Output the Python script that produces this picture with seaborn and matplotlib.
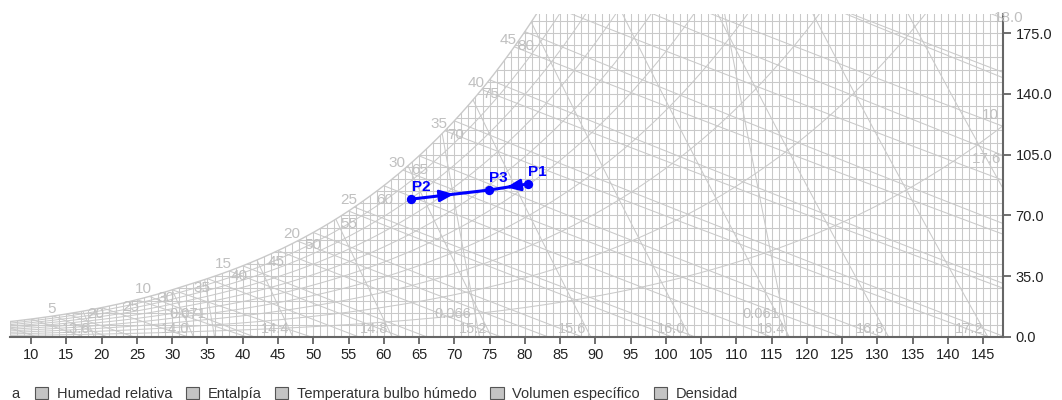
import numpy as np
import pandas as pd
import matplotlib
matplotlib.use("Agg")
import matplotlib.pyplot as plt
import seaborn as sns
from matplotlib.patches import Polygon, Patch

# ---------------- data ----------------
pressure_kpa = 89.9                      # station pressure of the chart
x_ticks = list(range(10, 150, 5))        # dry bulb, degF
y_ticks = [0, 35, 70, 105, 140, 175]     # humidity ratio, grains/lb
dry_bulb_grid = list(range(7, 149, 1))
humidity_grid = list(range(7, 186, 7))
rh_levels = [0.1, 0.2, 0.3, 0.4, 0.5, 0.6, 0.7, 0.8, 0.9]
rh_edge_labels = ["10"]
enthalpy_levels = [0, 5, 10, 15, 20, 25, 30, 35, 40, 45, 50, 55, 60, 65, 70]
enthalpy_labels = [5, 10, 15, 20, 25, 30, 35, 40, 45]
wetbulb_levels = [0, 5, 10, 15, 20, 25, 30, 35, 40, 45, 50, 55, 60, 65, 70, 75,
                  80, 85, 90, 95, 100, 105, 110]
wetbulb_labels = [20, 25, 30, 35, 40, 45, 50, 55, 60, 65, 70, 75, 80]
volume_levels = [13.2, 13.6, 14.0, 14.4, 14.8, 15.2, 15.6, 16.0, 16.4, 16.8,
                 17.2, 17.6, 18.0, 18.4]
volume_bottom_labels = ["13.6", "14.0", "14.4", "14.8", "15.2", "15.6", "16.0",
                        "16.4", "16.8", "17.2"]
volume_edge_labels = ["17.6", "18.0"]
density_levels = [0.056, 0.061, 0.066, 0.071, 0.076]
density_labels = ["0.061", "0.066", "0.071"]

point_names = ["P1", "P2", "P3"]
point_db = [80.4, 63.9, 74.9]       # degF
point_w = [88.1, 79.4, 84.6]        # grains/lb

legend_labels = ["Humedad relativa", "Entalpía", "Temperatura bulbo húmedo",
                 "Volumen específico", "Densidad"]

# ---------------- psychrometrics ----------------
def f2c(t):
    return (np.asarray(t, float) - 32.0) / 1.8

def pws(tf):
    tc = f2c(tf)
    return np.where(tc >= 0,
                    0.61094 * np.exp(17.625 * tc / (tc + 243.04)),
                    0.61115 * np.exp(22.452 * tc / (272.55 + tc)))

def w_sat(tf):
    p = pws(tf)
    return 0.622 * p / (pressure_kpa - p)

def w_rh(tf, phi):
    p = phi * pws(tf)
    return 0.622 * p / (pressure_kpa - p)

def w_enth(tf, h):
    return (h - 0.24 * tf) / (1061.0 + 0.444 * tf)

def w_wetbulb(tf, twb):
    ws = w_sat(twb)
    if twb >= 32:
        return ((1093 - 0.556 * twb) * ws - 0.240 * (tf - twb)) / (1093 + 0.444 * tf - twb)
    return ((1220 - 0.04 * twb) * ws - 0.240 * (tf - twb)) / (1220 + 0.444 * tf - 0.48 * twb)

def t_volume(w, v):
    tk = v * pressure_kpa / (4.598 * (1 + 1.6078 * w))
    return (tk - 273.15) * 1.8 + 32

def t_density(w, rho):
    tk = (1 + w) * pressure_kpa / (4.598 * rho * (1 + 1.6078 * w))
    return (tk - 273.15) * 1.8 + 32

GR = 7000.0
XMIN, XMAX, YMIN, YMAX = 7.0, 147.8, 0.0, 186.0
PX = 0.72  # points per pixel at 100 dpi

# ---------------- build chart lines ----------------
rows = []
uid = 0
def add(t, gr):
    global uid
    for a, b in zip(t, gr):
        rows.append((uid, float(a), float(b)))
    uid += 1

for t in dry_bulb_grid:
    add([t, t], [0, 400])
for g in humidity_grid:
    add([0, 160], [g, g])
tt = np.linspace(0, 160, 400)
for phi in rh_levels:
    add(tt, w_rh(tt, phi) * GR)
for h in enthalpy_levels:
    add(tt, w_enth(tt, h) * GR)
for twb in wetbulb_levels:
    t2 = np.linspace(twb, 160, 200)
    add(t2, w_wetbulb(t2, twb) * GR)
ww = np.linspace(0, 0.04, 50)
for v in volume_levels:
    add(t_volume(ww, v), ww * GR)
for rho in density_levels:
    add(t_density(ww, rho), ww * GR)
df_lines = pd.DataFrame(rows, columns=["uid", "t", "gr"])

tsat = np.linspace(0, 95, 500)
df_sat = pd.DataFrame({"t": tsat, "gr": w_sat(tsat) * GR})

# ---------------- figure ----------------
sns.set_theme(style="white")
plt.rcParams["font.family"] = ["Liberation Sans", "DejaVu Sans"]

fig = plt.figure(figsize=(10.62, 4.0), dpi=100)
ax = fig.add_axes([10 / 1062, 63 / 400, 993 / 1062, 323 / 400])

grid_col = "#c9c9c9"
lab_col = "#c0c0c0"
lab_fs = 11
small_fs = 10.5

sns.lineplot(data=df_lines, x="t", y="gr", units="uid", estimator=None,
             sort=False, color=grid_col, lw=0.75, ax=ax)
n_grid = len(ax.lines)

clip_poly = np.vstack([np.column_stack([tsat, df_sat["gr"].values]),
                       [[200, df_sat["gr"].values[-1]], [200, -10], [0, -10]]])
clip = Polygon(clip_poly, closed=True, transform=ax.transData, facecolor="none",
               edgecolor="none")
for ln in ax.lines[:n_grid]:
    ln.set_clip_path(clip)

sns.lineplot(data=df_sat, x="t", y="gr", sort=False, color=grid_col, lw=1.0, ax=ax)

# ---------- labels ----------
fine_t = np.linspace(0, 100, 20001)
hsat = 0.24 * fine_t + w_sat(fine_t) * (1061 + 0.444 * fine_t)
for h in enthalpy_labels:
    t0 = np.interp(h, hsat, fine_t)
    ax.annotate(str(h), (t0, w_sat(t0) * GR), xytext=(2, 0), textcoords="offset points",
                ha="right", va="bottom", color=lab_col, fontsize=lab_fs)
for twb in wetbulb_labels:
    dx_px = np.interp(twb, [20, 35, 45, 60, 80], [-6, -6, -1.5, 1, 1])
    dy_px = np.interp(twb, [20, 30, 45, 60, 80], [6, 8, 11.5, 14, 14])
    ax.annotate(str(twb), (twb, w_sat(twb) * GR), xytext=(dx_px * PX, -dy_px * PX),
                textcoords="offset points", ha="center", va="center", color=lab_col,
                fontsize=lab_fs)
for lab in volume_bottom_labels:
    v = float(lab)
    t0 = t_volume(4.8 / GR, v)
    if 9 < t0 < XMAX:
        ax.annotate(lab, (t0, 4.8), xytext=(0, 0), textcoords="offset points",
                    ha="right", va="center", color=lab_col, fontsize=small_fs)
for lab in volume_edge_labels:
    v = float(lab)
    wg = np.linspace(0, 0.03, 3001)
    tl = t_volume(wg, v)
    g_at = np.interp(-145.5, -tl, wg) * GR
    if g_at < 182:
        ax.text(145.5, g_at, lab, ha="center", va="center", color=lab_col,
                fontsize=lab_fs)
    else:
        t_at = t_volume(183 / GR, v)
        ax.text(t_at + 0.4, 183.5, lab, ha="center", va="center", color=lab_col,
                fontsize=lab_fs)
for lab, phi in zip(rh_edge_labels, rh_levels):
    ax.text(146, w_rh(146, phi) * GR + 12, lab, ha="center", va="center",
            color=lab_col, fontsize=lab_fs)
for lab in density_labels:
    rho = float(lab)
    t0 = t_density(13.5 / GR, rho)
    ax.annotate(lab, (t0, 13.5), xytext=(-3, 0), textcoords="offset points",
                ha="right", va="center", color=lab_col, fontsize=small_fs)

# ---------- process ----------
blue = "#0000ff"
df_pts = pd.DataFrame({"name": point_names, "t": point_db, "gr": point_w})
p = df_pts.set_index("name")
for a, b in [("P2", "P3"), ("P1", "P3")]:
    seg = pd.DataFrame({"t": [p.loc[a, "t"], p.loc[b, "t"]],
                        "gr": [p.loc[a, "gr"], p.loc[b, "gr"]]})
    sns.lineplot(data=seg, x="t", y="gr", sort=False, color=blue, lw=2.2, ax=ax)
    mx = (seg["t"][0] + seg["t"][1]) / 2
    my = (seg["gr"][0] + seg["gr"][1]) / 2
    dx = (seg["t"][1] - seg["t"][0]) * 0.05
    dy = (seg["gr"][1] - seg["gr"][0]) * 0.05
    ax.annotate("", xy=(mx + dx, my + dy), xytext=(mx - dx, my - dy),
                arrowprops=dict(arrowstyle="-|>,head_length=0.6,head_width=0.25",
                                color=blue, lw=2, mutation_scale=14,
                                shrinkA=0, shrinkB=0))
sns.scatterplot(data=df_pts, x="t", y="gr", color=blue, s=45, edgecolor=blue,
                linewidth=0, zorder=5, ax=ax)
for _, r in df_pts.iterrows():
    ax.annotate(r["name"], (r["t"], r["gr"]), xytext=(7, 9), textcoords="offset points",
                ha="center", va="center", color=blue, fontsize=11, fontweight="bold")

# ---------- axes ----------
ax.set_xlim(XMIN, XMAX)
ax.set_ylim(YMIN, YMAX)
ax.set_xlabel("")
ax.set_ylabel("")
ax.set_xticks(x_ticks)
ax.set_xticklabels([str(t) for t in x_ticks])
ax.yaxis.tick_right()
ax.set_yticks(y_ticks)
ax.set_yticklabels([f"{v:.1f}" for v in y_ticks])
for s in ["left", "top"]:
    ax.spines[s].set_visible(False)
for s in ["right", "bottom"]:
    ax.spines[s].set_visible(True)
    ax.spines[s].set_color("#666666")
    ax.spines[s].set_linewidth(1.5)
ax.tick_params(axis="x", direction="out", length=5, width=1.2, color="#555555",
               labelsize=10.5, labelcolor="#222222", pad=3, bottom=True)
ax.tick_params(axis="y", direction="out", length=6, width=1.2, color="#555555",
               labelsize=10.5, labelcolor="#222222", pad=3, right=True, left=False)
ax.grid(False)
ax.set_facecolor("white")

# ---------- legend ----------
fig.text(15 / 1062, 1 - 394 / 400, "a", ha="center", va="center", fontsize=10.5,
         color="#333333")
handles = [Patch(facecolor="#c4c4c4", edgecolor="#555555", linewidth=0.8)
           for _ in legend_labels]
fig.legend(handles, legend_labels, loc="center left",
           bbox_to_anchor=(35 / 1062, 1 - 394 / 400), ncol=5, frameon=False,
           handlelength=0.9, handleheight=0.9, handletextpad=0.6,
           columnspacing=0.93, fontsize=10.5, labelcolor="#333333",
           borderpad=0, borderaxespad=0)

fig.savefig("out.png", dpi=100, facecolor="white")
